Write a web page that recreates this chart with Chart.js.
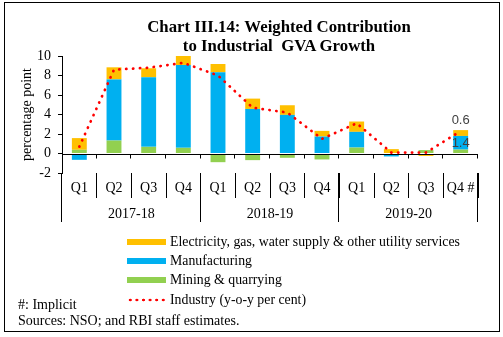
<!DOCTYPE html>
<html><head><meta charset="utf-8">
<script src="https://cdn.jsdelivr.net/npm/chart.js@4.4.1/dist/chart.umd.min.js"></script>
<style>
html,body{margin:0;padding:0;background:#fff;}
#wrap{position:relative;width:503px;height:337px;overflow:hidden;font-family:"Liberation Serif","Times New Roman",serif;color:#000;}
#frame{position:absolute;left:4px;top:2px;width:494px;height:328px;border:1px solid #000;box-sizing:content-box;pointer-events:none;}
#c{position:absolute;left:0;top:0;}
.t{position:absolute;left:79px;width:400px;text-align:center;font-weight:bold;font-size:16.8px;line-height:18px;white-space:nowrap;}
.lg{position:absolute;left:127px;height:16px;line-height:16px;font-size:13.8px;white-space:nowrap;}
.sw{position:absolute;left:0;top:5px;width:39px;height:6px;}
.lt{position:absolute;left:43px;top:0;}
.note{position:absolute;left:18px;font-size:14px;line-height:16px;white-space:nowrap;}
</style></head>
<body>
<div id="wrap">
  <canvas id="c" width="503" height="337"></canvas>
  <div class="t" style="top:18px">Chart III.14: Weighted Contribution</div>
  <div class="t" style="top:37px">to Industrial&nbsp; GVA Growth</div>
  <div id="legend"></div>
  <div class="note" style="top:297px">#: Implicit</div>
  <div class="note" style="top:313px">Sources: NSO; and RBI staff estimates.</div>
  <div id="frame"></div>
</div>
<script>
const quarters = ['Q1','Q2','Q3','Q4','Q1','Q2','Q3','Q4','Q1','Q2','Q3','Q4 #'];
const years = ['2017-18','2018-19','2019-20'];
const quartersPerYear = 4;
const mining        = [0.38, 1.33, 0.68, 0.58, -0.89, -0.68, -0.44, -0.61, 0.61, 0.05, 0.35, 0.4];
const manufacturing = [-0.65, 6.27, 7.14, 8.5, 8.33, 4.57, 3.96, 1.74, 1.61, -0.3, -0.05, 1.4];
const electricity   = [1.2, 1.24, 0.92, 0.97, 0.85, 1.06, 0.99, 0.58, 1.06, 0.4, -0.2, 0.6];
const industry      = [0.7, 8.6, 8.8, 9.3, 8.0, 4.7, 4.2, 1.5, 3.1, 0.1, 0.1, 2.3];
const yTicks = [-2, 0, 2, 4, 6, 8, 10];
const labelledIndex = 11;

const SERIF = '"Liberation Serif","Times New Roman",serif';
const SANS = '"Liberation Sans",Arial,sans-serif';
const C_ELEC = '#FFC000', C_MANU = '#00B0F0', C_MIN = '#92D050', C_IND = '#FF0000';

const decor = {
  id: 'decor',
  beforeDatasetDraw(chart, args) {
    if (args.index !== 0) return;
    const ctx = chart.ctx, x = chart.scales.x, y = chart.scales.y;
    const y0 = Math.round(y.getPixelForValue(0)) + 0.5;
    const w = (x.right - x.left) / quarters.length;
    ctx.save();
    ctx.strokeStyle = '#000'; ctx.lineWidth = 1;
    ctx.beginPath();
    ctx.moveTo(x.left, y0); ctx.lineTo(x.right, y0);
    for (let j = 1; j <= quarters.length; j++) {
      const px = Math.round(x.left + j * w) - 0.5;
      ctx.moveTo(px, y0); ctx.lineTo(px, y0 + 4);
    }
    ctx.stroke();
    ctx.restore();
  },
  afterDatasetsDraw(chart) {
    const ctx = chart.ctx;
    ctx.save();
    ctx.fillStyle = '#404040';
    ctx.font = '13px ' + SANS;
    ctx.textAlign = 'center'; ctx.textBaseline = 'middle';
    const eMeta = chart.getDatasetMeta(3).data[labelledIndex];
    const mMeta = chart.getDatasetMeta(2).data[labelledIndex];
    ctx.fillText(electricity[labelledIndex].toFixed(1), eMeta.x, eMeta.y - 9.5);
    ctx.fillText(manufacturing[labelledIndex].toFixed(1), mMeta.x, (mMeta.y + mMeta.base) / 2 + 0.5);
    ctx.restore();
  },
  afterDraw(chart) {
    const ctx = chart.ctx, x = chart.scales.x, y = chart.scales.y;
    const w = (x.right - x.left) / quarters.length;
    const top = y.bottom;
    ctx.save();
    ctx.strokeStyle = '#000'; ctx.lineWidth = 1;
    ctx.beginPath();
    for (let g = 0; g <= years.length; g++) {
      let px = Math.round(x.left + g * quartersPerYear * w) - 0.5;
      if (g === 0) px = Math.round(x.left) - 0.5;
      ctx.moveTo(px, top); ctx.lineTo(px, top + 49);
    }
    ctx.stroke();
    ctx.fillStyle = '#000';
    ctx.font = '14px ' + SERIF;
    ctx.textAlign = 'center'; ctx.textBaseline = 'middle';
    years.forEach((yr, g) => {
      ctx.fillText(yr, x.left + (g * quartersPerYear + quartersPerYear / 2) * w, top + 41);
    });
    ctx.restore();
  }
};

const datasets = [
  { type: 'line', label: 'Industry (y-o-y per cent)', data: industry, borderColor: C_IND,
    backgroundColor: C_IND, borderWidth: 2.7, borderDash: [0.3, 6.6], borderCapStyle: 'round',
    pointRadius: 0, tension: 0, fill: false, stack: 'line', swatch: 'dots' },
  { type: 'bar', label: 'Mining & quarrying', data: mining, backgroundColor: C_MIN, stack: 'gva' },
  { type: 'bar', label: 'Manufacturing', data: manufacturing, backgroundColor: C_MANU, stack: 'gva' },
  { type: 'bar', label: 'Electricity, gas, water supply & other utility services', data: electricity, backgroundColor: C_ELEC, stack: 'gva' }
];

new Chart(document.getElementById('c'), {
  data: { labels: quarters, datasets },
  plugins: [decor],
  options: {
    responsive: false, animation: false, devicePixelRatio: 1,
    layout: { padding: { top: 56, right: 25, bottom: 0, left: 0 } },
    datasets: { bar: { barPercentage: 0.43, categoryPercentage: 1 } },
    plugins: { legend: { display: false }, tooltip: { enabled: false }, title: { display: false } },
    scales: {
      x: {
        stacked: true, offset: true,
        grid: { offset: true, drawOnChartArea: false, drawTicks: true, tickLength: 25, color: '#000', lineWidth: 1 },
        border: { display: false },
        ticks: { color: '#000', font: { family: SERIF, size: 14 }, padding: -18.5, maxRotation: 0, autoSkip: false },
        afterFit: s => { s.height = 164; }
      },
      y: {
        stacked: true, min: -2, max: 10,
        afterBuildTicks: s => { s.ticks = yTicks.map(v => ({ value: v })); },
        grid: { drawOnChartArea: false, drawTicks: true, tickLength: 4, color: '#000', tickColor: '#000' },
        border: { display: true, color: '#000' },
        ticks: { color: '#000', font: { family: SERIF, size: 14 }, padding: 7, autoSkip: false },
        title: { display: true, text: 'percentage point', color: '#000', font: { family: SERIF, size: 14 }, padding: { top: 19, bottom: 0 } },
        afterFit: s => { s.width = 62; }
      }
    }
  }
});

// legend (built from the datasets): top-most stack first, line last
const legendOrder = [3, 2, 1, 0];
const rowCenters = [241.7, 260.7, 280, 300];
const lg = document.getElementById('legend');
legendOrder.forEach((di, r) => {
  const ds = datasets[di];
  const row = document.createElement('div');
  row.className = 'lg';
  row.style.top = (rowCenters[r] - 8) + 'px';
  const sw = document.createElement('span');
  sw.className = 'sw';
  if (ds.swatch === 'dots') {
    sw.style.backgroundImage = 'radial-gradient(circle, ' + ds.borderColor + ' 1.2px, rgba(255,0,0,0) 1.6px)';
    sw.style.backgroundSize = '6.6px 6px';
    sw.style.backgroundPosition = '0 0';
  } else {
    sw.style.background = ds.backgroundColor;
  }
  const tx = document.createElement('span');
  tx.className = 'lt';
  tx.textContent = ds.label;
  row.appendChild(sw); row.appendChild(tx);
  lg.appendChild(row);
});
</script>
</body></html>
